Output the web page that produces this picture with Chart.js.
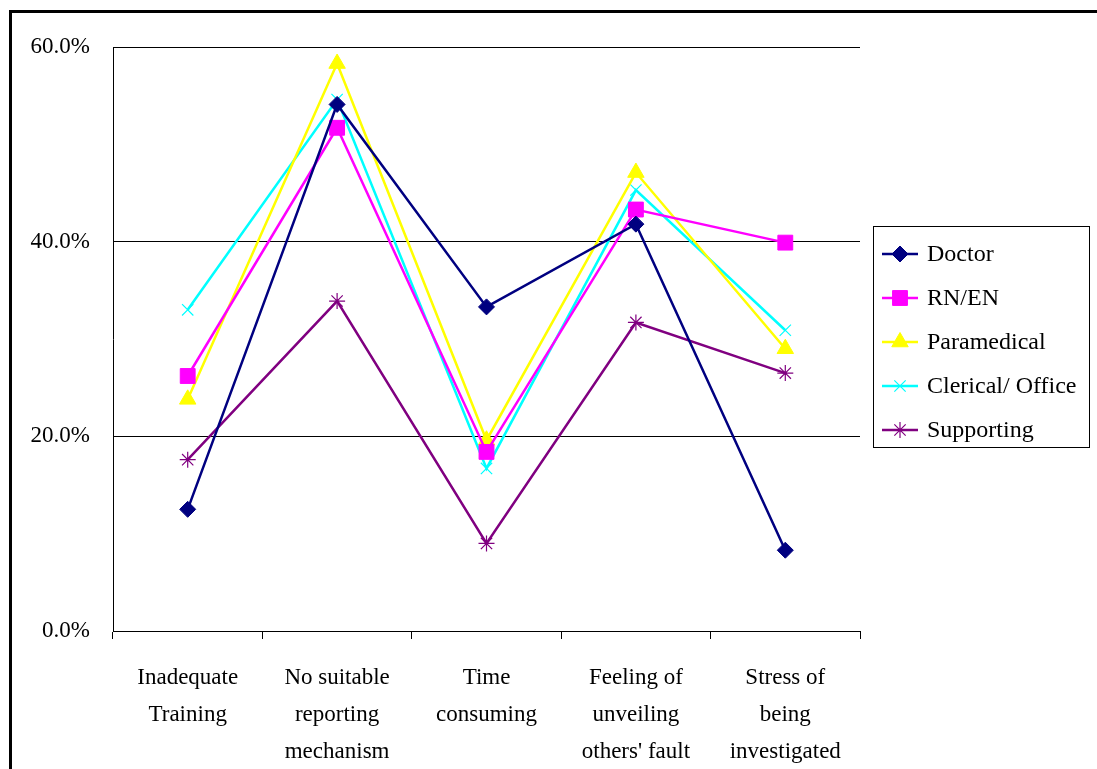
<!DOCTYPE html>
<html>
<head>
<meta charset="utf-8">
<script src="https://cdn.jsdelivr.net/npm/chart.js@4"></script>
<style>
  html, body { margin: 0; padding: 0; background: #fff; overflow: hidden; }
  #wrap { position: relative; width: 1097px; height: 769px; }
  #frame { position: absolute; left: 9px; top: 10px; width: 1200px; height: 900px;
           border-left: 3px solid #000; border-top: 3px solid #000; pointer-events: none; }
  canvas { position: absolute; left: 0; top: 0; }
</style>
</head>
<body>
<div id="wrap">
  <canvas id="chart" width="1097" height="769"></canvas>
  <div id="frame"></div>
</div>
<script>
// categories (multi-line labels)
const categories = [
  ['Inadequate', 'Training'],
  ['No suitable', 'reporting', 'mechanism'],
  ['Time', 'consuming'],
  ['Feeling of', 'unveiling', "others' fault"],
  ['Stress of', 'being', 'investigated']
];
const yTicks = [0, 20, 40, 60];

// series values (%)
const doctor      = [12.5, 54.1, 33.3, 41.8, 8.3];
const rnEn        = [26.2, 51.7, 18.4, 43.3, 39.9];
const paramedical = [23.8, 58.3, 19.6, 47.1, 29.0];
const clerical    = [33.0, 54.6, 16.7, 45.3, 30.9];
const supporting  = [17.6, 33.9, 9.0, 31.7, 26.5];

const serif = "'Liberation Serif', 'DejaVu Serif', serif";

function series(label, data, color, style, radius, bw) {
  return {
    label: label,
    data: data,
    borderColor: color,
    backgroundColor: color,
    borderWidth: 2.5,
    pointStyle: style,
    pointRadius: radius,
    pointHoverRadius: radius,
    pointBorderWidth: bw,
    pointBackgroundColor: color,
    pointBorderColor: color,
    tension: 0
  };
}

// legend drawn by hand: line with the marker in the middle, like the original
const boxLegend = {
  id: 'boxLegend',
  afterDraw(chart) {
    const ctx = chart.ctx;
    ctx.save();
    ctx.strokeStyle = '#000';
    ctx.lineWidth = 1;
    ctx.strokeRect(873.5, 226.5, 216, 221);
    chart.data.datasets.forEach((ds, i) => {
      const y = 254 + i * 44;
      ctx.strokeStyle = ds.borderColor;
      ctx.lineWidth = ds.borderWidth;
      ctx.beginPath();
      ctx.moveTo(882, y);
      ctx.lineTo(918, y);
      ctx.stroke();
      ctx.fillStyle = ds.pointBackgroundColor;
      ctx.strokeStyle = ds.pointBorderColor;
      ctx.lineWidth = ds.pointBorderWidth;
      Chart.helpers.drawPoint(ctx, {
        pointStyle: ds.pointStyle, radius: ds.pointRadius,
        borderWidth: ds.pointBorderWidth, rotation: 0
      }, 900, y);
      ctx.fillStyle = '#000';
      ctx.font = '24px ' + serif;
      ctx.textBaseline = 'middle';
      ctx.textAlign = 'left';
      ctx.fillText(ds.label, 927, y + 1);
    });
    ctx.restore();
  }
};

new Chart(document.getElementById('chart'), {
  type: 'line',
  data: {
    labels: categories,
    datasets: [
      series('Doctor', doctor, '#000080', 'rectRot', 8, 1),
      series('RN/EN', rnEn, '#FF00FF', 'rect', 10.5, 1),
      series('Paramedical', paramedical, '#FFFF00', 'triangle', 9.5, 1),
      series('Clerical/ Office', clerical, '#00FFFF', 'crossRot', 8, 1.2),
      series('Supporting', supporting, '#800080', 'star', 8, 1.2)
    ]
  },
  options: {
    responsive: false,
    animation: false,
    layout: { padding: { top: 47, right: 237, left: 0, bottom: 0 } },
    plugins: {
      legend: { display: false },
      tooltip: { enabled: false }
    },
    scales: {
      x: {
        offset: true,
        grid: { offset: true, drawOnChartArea: false, drawTicks: true, tickLength: 8, color: '#000', lineWidth: 1 },
        border: { display: true, color: '#000', width: 1 },
        ticks: {
          color: '#000',
          font: { family: serif, size: 23, lineHeight: '37px' },
          padding: 20,
          maxRotation: 0,
          autoSkip: false
        },
        afterFit(scale) { scale.height = 138; }
      },
      y: {
        min: 0,
        max: 60,
        afterBuildTicks(scale) { scale.ticks = yTicks.map(v => ({ value: v })); },
        grid: { color: '#000', lineWidth: 1, drawTicks: false },
        border: { display: true, color: '#000', width: 1 },
        ticks: {
          color: '#000',
          font: { family: serif, size: 23 },
          padding: 23,
          callback: v => v.toFixed(1) + '%'
        },
        afterFit(scale) { scale.width = 113; }
      }
    }
  },
  plugins: [boxLegend]
});
</script>
</body>
</html>
